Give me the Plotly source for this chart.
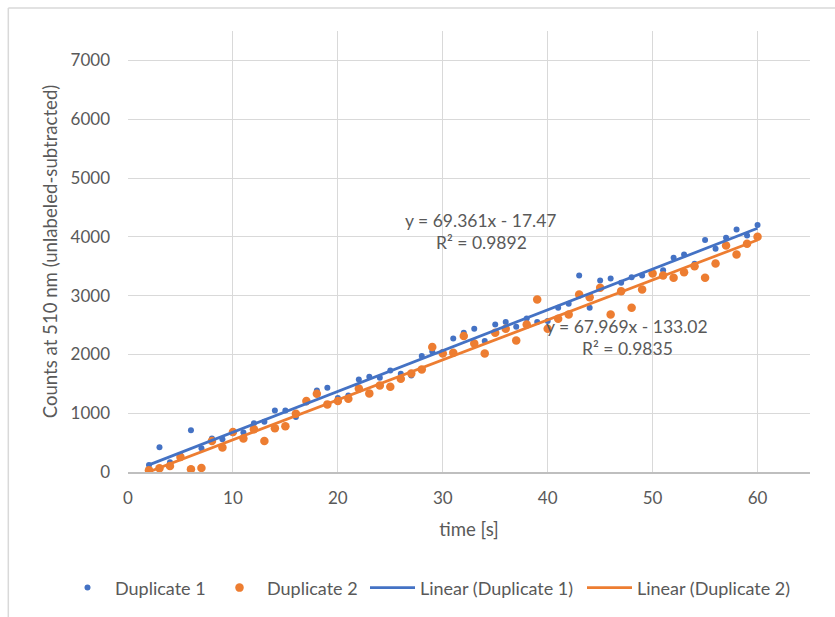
import plotly.graph_objects as go

time_s = list(range(2, 61))
dup1 = [119, 420, 165, 280, 709, 402, 568, 556, 660, 670, 828, 856, 1048, 1048, 935, 1180, 1388, 1434, 1260,
        1303, 1575, 1621, 1604, 1728, 1672, 1643, 1971, 2050, 2040, 2272, 2369, 2437, 2226, 2510, 2549, 2471, 2612, 2549,
        2566, 2794, 2862, 3342, 2794, 3257, 3291, 3218, 3313, 3342, 3390, 3432, 3643, 3699, 3540, 3944, 3798, 3985, 4126, 4024, 4199]
dup2 = [30, 63, 102, 255, 46, 68, 527, 415, 680, 568, 726, 527, 743, 777, 992, 1206, 1332, 1150, 1206,
        1247, 1422, 1337, 1473, 1451, 1587, 1677, 1745, 2124, 2017, 2029, 2311, 2187, 2017, 2369, 2437, 2238, 2510, 2935,
        2437, 2606, 2680, 3020, 2974, 3133, 2680, 3076, 2794, 3104, 3376, 3342, 3303, 3398, 3500, 3303, 3546, 3852, 3699, 3881, 4000]

fit_slope = [69.361, 67.969]
fit_intercept = [-17.47, -133.02]
fit_r2 = [0.9892, 0.9835]
fit_x = [2, 60]

blue = "#4472C4"
orange = "#ED7D31"
gray_txt = "#595959"
font_family = "Lato, Open Sans, sans-serif"
fs_tick = 17
fs = 17.5
fs_leg = 18
fs_title = 18.6

fig = go.Figure()
fig.add_trace(go.Scatter(x=time_s, y=dup1, mode="markers", name="Duplicate 1",
                         marker=dict(color=blue, size=6), legendwidth=92))
fig.add_trace(go.Scatter(x=time_s, y=dup2, mode="markers", name="Duplicate 2",
                         marker=dict(color=orange, size=8.5), legendwidth=93))
lw = [157, 160]
for i, (name, col) in enumerate([("Linear (Duplicate 1)", blue), ("Linear (Duplicate 2)", orange)]):
    ys = [fit_slope[i] * xv + fit_intercept[i] for xv in fit_x]
    fig.add_trace(go.Scatter(x=fit_x, y=ys, mode="lines", name=name,
                             line=dict(color=col, width=2.75), legendwidth=lw[i]))

def eq_text(i):
    b = fit_intercept[i]
    sign = "-" if b < 0 else "+"
    return f"y = {fit_slope[i]}x {sign} {abs(b)}"

afont = dict(size=fs, color=gray_txt, family=font_family)
fig.add_annotation(x=33.65, y=4281, text=eq_text(0), showarrow=False, font=afont)
fig.add_annotation(x=33.65, y=3898, text=f"R² = {fit_r2[0]}", showarrow=False, font=afont)
fig.add_annotation(x=47.54, y=2483, text=eq_text(1), showarrow=False, font=afont)
fig.add_annotation(x=47.62, y=2100, text=f"R² = {fit_r2[1]}", showarrow=False, font=afont)

# chart frame (top and left edges)
fig.add_shape(type="line", xref="paper", yref="paper", x0=-0.1755, x1=1.1, y0=1.052, y1=1.052,
              line=dict(color="#d9d9d9", width=1.5))
fig.add_shape(type="line", xref="paper", yref="paper", x0=-0.1755, x1=-0.1755, y0=1.052, y1=-0.4,
              line=dict(color="#d9d9d9", width=1.5))

fig.update_layout(
    width=835, height=617,
    margin=dict(l=128, r=25, t=31, b=144),
    paper_bgcolor="white", plot_bgcolor="white",
    font=dict(family=font_family, color=gray_txt, size=fs),
    showlegend=True,
    legend=dict(orientation="h", x=-0.0997, xanchor="left", y=-0.26, yanchor="middle",
                font=dict(size=fs_leg, color=gray_txt, family=font_family), entrywidthmode="pixels",
                itemwidth=45, tracegroupgap=0),
    xaxis=dict(range=[0, 65], dtick=10, tick0=0, showgrid=True, gridcolor="#d9d9d9", gridwidth=1,
               zeroline=False, showline=True, linecolor="#bfbfbf", linewidth=1.5,
               ticks="", tickfont=dict(size=fs_tick, color=gray_txt), ticklabelstandoff=10,
               title=dict(text="time [s]", font=dict(size=fs_title, color=gray_txt), standoff=16)),
    yaxis=dict(range=[0, 7500], dtick=1000, tick0=0, showgrid=True, gridcolor="#d9d9d9", gridwidth=1,
               zeroline=False, showline=False, ticks="", tickfont=dict(size=fs_tick, color=gray_txt),
               ticklabelstandoff=17,
               title=dict(text="Counts at 510 nm (unlabeled-subtracted)", font=dict(size=fs_title, color=gray_txt), standoff=8)),
)

fig.write_html("out.html")
